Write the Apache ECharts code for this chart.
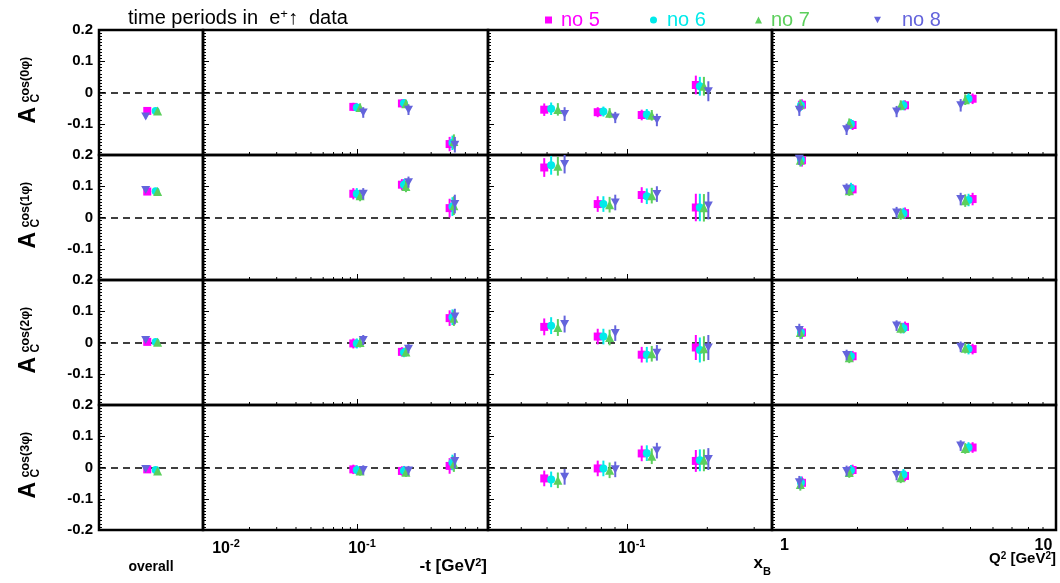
<!DOCTYPE html>
<html><head><meta charset="utf-8">
<script src="https://cdn.jsdelivr.net/npm/echarts@6/dist/echarts.min.js"></script>
<style>html,body{margin:0;padding:0;background:#fff}#c{width:1060px;height:583px}</style>
</head><body><div id="c"></div>
<script>
const FONT = '"Liberation Sans", Arial, Helvetica, sans-serif';

// ---- series ----
const seriesNames = ['no 5', 'no 6', 'no 7', 'no 8'];
const seriesColors = ['#ff00ff', '#00eaea', '#5ccf5c', '#6464dc'];
const harmonics = ['0', '1', '2', '3'];           // A_C^{cos(n phi)}
// which panel column each of the 12 points belongs to: overall, -t (3 bins), xB (4 bins), Q2 (4 bins)
const pointColumn = [0, 1, 1, 1, 2, 2, 2, 2, 3, 3, 3, 3];

// x positions (overall slot, -t [GeV^2], x_B, Q^2 [GeV^2]) per series
const X_no5 = [0.464, 0.094, 0.194, 0.395, 0.0488, 0.0775, 0.1134, 0.1811, 1.275, 1.922, 2.940, 5.086];
const X_no6 = [0.545, 0.099, 0.200, 0.412, 0.0518, 0.0814, 0.1185, 0.1875, 1.265, 1.897, 2.903, 4.920];
const X_no7 = [0.564, 0.104, 0.206, 0.421, 0.0549, 0.0859, 0.1237, 0.1942, 1.258, 1.871, 2.840, 4.790];
const X_no8 = [0.449, 0.109, 0.214, 0.427, 0.0582, 0.0902, 0.1293, 0.2018, 1.248, 1.831, 2.746, 4.617];

// asymmetry values: row cos(0phi)
const A0_no5 = [-0.059, -0.046, -0.035, -0.165, -0.055, -0.063, -0.072, 0.024, -0.039, -0.104, -0.041, -0.020];
const A0_no6 = [-0.059, -0.048, -0.034, -0.161, -0.052, -0.061, -0.070, 0.020, -0.041, -0.101, -0.041, -0.020];
const A0_no7 = [-0.059, -0.048, -0.036, -0.157, -0.054, -0.066, -0.073, 0.020, -0.039, -0.099, -0.041, -0.023];
const A0_no8 = [-0.077, -0.064, -0.055, -0.167, -0.069, -0.080, -0.088, 0.004, -0.055, -0.118, -0.061, -0.041];
// row cos(1phi)
const A1_no5 = [0.083, 0.076, 0.105, 0.030, 0.160, 0.043, 0.072, 0.032, 0.183, 0.090, 0.014, 0.059];
const A1_no6 = [0.084, 0.076, 0.105, 0.035, 0.167, 0.043, 0.068, 0.032, 0.185, 0.094, 0.013, 0.056];
const A1_no7 = [0.083, 0.070, 0.099, 0.038, 0.164, 0.041, 0.070, 0.031, 0.183, 0.086, 0.011, 0.054];
const A1_no8 = [0.088, 0.076, 0.113, 0.043, 0.171, 0.048, 0.075, 0.038, 0.188, 0.092, 0.016, 0.059];
// row cos(2phi)
const A2_no5 = [0.002, -0.003, -0.030, 0.078, 0.050, 0.019, -0.039, -0.016, 0.032, -0.044, 0.050, -0.021];
const A2_no6 = [0.002, -0.003, -0.032, 0.081, 0.054, 0.019, -0.039, -0.024, 0.032, -0.044, 0.046, -0.021];
const A2_no7 = [0.001, 0.000, -0.030, 0.078, 0.048, 0.016, -0.036, -0.020, 0.032, -0.049, 0.046, -0.018];
const A2_no8 = [0.008, 0.008, -0.020, 0.083, 0.059, 0.030, -0.033, -0.016, 0.040, -0.040, 0.054, -0.014];
// row cos(3phi)
const A3_no5 = [-0.006, -0.006, -0.011, 0.005, -0.035, -0.003, 0.045, 0.021, -0.049, -0.008, -0.027, 0.064];
const A3_no6 = [-0.008, -0.008, -0.010, 0.016, -0.038, -0.003, 0.046, 0.023, -0.049, -0.009, -0.022, 0.064];
const A3_no7 = [-0.011, -0.011, -0.015, 0.011, -0.041, -0.009, 0.036, 0.023, -0.054, -0.016, -0.033, 0.061];
const A3_no8 = [-0.005, -0.008, -0.010, 0.021, -0.030, -0.006, 0.054, 0.027, -0.047, -0.011, -0.024, 0.070];

// statistical uncertainties per row
const E0 = [0.006, 0.013, 0.013, 0.023, 0.020, 0.016, 0.017, 0.030, 0.017, 0.016, 0.016, 0.017];
const E0_no8 = [0.006, 0.017, 0.017, 0.025, 0.022, 0.018, 0.020, 0.032, 0.020, 0.018, 0.018, 0.020];
const E1 = [0.005, 0.018, 0.018, 0.030, 0.030, 0.025, 0.025, 0.044, 0.020, 0.017, 0.018, 0.020];
const E2 = [0.005, 0.016, 0.015, 0.025, 0.027, 0.025, 0.025, 0.040, 0.020, 0.017, 0.017, 0.017];
const E3 = [0.006, 0.015, 0.015, 0.025, 0.025, 0.025, 0.025, 0.035, 0.020, 0.017, 0.017, 0.017];

// axis tick positions for the log axes (minor ticks)
const minorT = [0.02, 0.03, 0.04, 0.05, 0.06, 0.07, 0.08, 0.09, 0.2, 0.3, 0.4, 0.5, 0.6];
const minorXB = [0.04, 0.05, 0.06, 0.07, 0.08, 0.09, 0.2, 0.3];
const minorQ2 = [2, 3, 4, 5, 6, 7, 8, 9];

const XS = [X_no5, X_no6, X_no7, X_no8];
const AS = [[A0_no5, A0_no6, A0_no7, A0_no8], [A1_no5, A1_no6, A1_no7, A1_no8],
            [A2_no5, A2_no6, A2_no7, A2_no8], [A3_no5, A3_no6, A3_no7, A3_no8]];
const ES = [[E0, E0, E0, E0_no8], [E1, E1, E1, E1], [E2, E2, E2, E2], [E3, E3, E3, E3]];
const minors = [[], minorT, minorXB, minorQ2];

// ---- layout ----
const colEdges = [99, 203, 488, 772, 1056];
const rowTops = [30, 155, 280, 405];
const rowH = 125;
const xRanges = [[0, 1], [0.01, 0.7], [0.03, 0.35], [1, 10]];
const symbols = ['rect', 'circle', 'triangle', 'path://M0,0L10,0L5,9Z'];
const symSizes = [8, 8, 9, 9];

const grids = [], xAxes = [], yAxes = [], series = [];

function logLabel(c) {
  return function (v) {
    const l = Math.log10(v), e = Math.round(l);
    if (Math.abs(l - e) > 1e-6) return '';
    if (c === 3) return e === 0 ? '{q0|1}' : '{q1|10}';
    if (c === 1 && e === -2) return '{bm|10}{s|' + e + '}';
    return '{b|10}{s|' + e + '}';
  };
}
const labelRich = {
  b: {fontSize: 16, fontWeight: 'bold', fontFamily: FONT, color: '#000', padding: [0, 0, 0, 9], verticalAlign: 'bottom'},
  bm: {fontSize: 16, fontWeight: 'bold', fontFamily: FONT, color: '#000', padding: [0, 0, 0, 46], verticalAlign: 'bottom'},
  s: {fontSize: 11, fontWeight: 'bold', fontFamily: FONT, color: '#000', verticalAlign: 'top', padding: [0, 0, 8, 0]},
  q0: {fontSize: 16, fontWeight: 'bold', fontFamily: FONT, color: '#000', padding: [0, 0, 0, 25]},
  q1: {fontSize: 16, fontWeight: 'bold', fontFamily: FONT, color: '#000', padding: [0, 25, 0, 0]}
};

for (let r = 0; r < 4; r++) {
  for (let c = 0; c < 4; c++) {
    const g = r * 4 + c;
    grids.push({
      left: colEdges[c], top: rowTops[r], width: colEdges[c + 1] - colEdges[c], height: rowH,
      show: true, borderColor: '#000', borderWidth: 2.5, backgroundColor: 'transparent',
      containLabel: false, outerBoundsMode: 'none'
    });
    if (c === 0) {
      xAxes.push({gridIndex: g, type: 'value', min: 0, max: 1, position: 'bottom',
        axisLine: {show: false, onZero: false},
        axisTick: {show: false}, axisLabel: {show: false}, splitLine: {show: false}});
    } else {
      xAxes.push({gridIndex: g, type: 'log', logBase: 10, min: xRanges[c][0], max: xRanges[c][1], position: 'bottom',
        axisLine: {show: false, onZero: false},
        axisTick: {show: true, inside: true, length: 6, lineStyle: {color: '#000', width: 1}},
        minorTick: {show: false},
        axisLabel: {show: r === 3, margin: 8, formatter: logLabel(c), rich: labelRich, showMinLabel: true, showMaxLabel: true},
        splitLine: {show: false}});
    }
    yAxes.push({gridIndex: g, type: 'value', min: -0.2, max: 0.2, interval: 0.1, position: 'left',
      axisLine: {show: false, onZero: false},
      axisTick: {show: true, inside: true, length: 6, lineStyle: {color: '#000', width: 1}},
      minorTick: {show: true, splitNumber: 10, length: 3, lineStyle: {color: '#000', width: 1}},
      axisLabel: {show: c === 0, margin: 6, fontSize: 15, fontWeight: 'bold', fontFamily: FONT, color: '#000',
        formatter: (function (row) { return function (v) {
          const q = Math.round(v * 10) / 10;
          if (q === -0.2 && row < 3) return '';
          return q === 0 ? '0' : q.toFixed(1);
        }; })(r)},
      splitLine: {show: false}});

    // minor ticks of log axes
    if (c > 0) {
      series.push({type: 'custom', xAxisIndex: g, yAxisIndex: g, silent: true, z: 1,
        data: minors[c].map(v => [v, -0.2]),
        renderItem: function (params, api) {
          const p = api.coord([api.value(0), -0.2]);
          return {type: 'line', shape: {x1: p[0], y1: p[1], x2: p[0], y2: p[1] - 3},
            style: {stroke: '#000', lineWidth: 1}};
        }});
    }

    for (let s = 0; s < 4; s++) {
      const pts = [], bars = [];
      for (let i = 0; i < 12; i++) {
        if (pointColumn[i] !== c) continue;
        const x = XS[s][i], y = AS[r][s][i], e = ES[r][s][i];
        pts.push([x, y]);
        bars.push([x, y - e, y + e]);
      }
      const col = seriesColors[s];
      series.push({type: 'custom', name: seriesNames[s] + ' err', xAxisIndex: g, yAxisIndex: g, silent: true,
        z: 2 + s, clip: true, data: bars, encode: {x: 0, y: [1, 2]},
        renderItem: (function (color) { return function (params, api) {
          const x = api.value(0);
          const a = api.coord([x, api.value(1)]);
          const b = api.coord([x, api.value(2)]);
          return {type: 'line', shape: {x1: a[0], y1: a[1], x2: b[0], y2: b[1]},
            style: {stroke: color, lineWidth: 2}};
        }; })(col)});
      const sc = {type: 'scatter', name: seriesNames[s], xAxisIndex: g, yAxisIndex: g,
        symbol: symbols[s], symbolSize: symSizes[s], symbolKeepAspect: true,
        itemStyle: {color: col, opacity: 1}, z: 2 + s, data: pts, silent: true};
      if (s === 0) {
        sc.markLine = {silent: true, symbol: ['none', 'none'], label: {show: false}, z: 1,
          lineStyle: {color: '#000', type: [7, 5], width: 1.5}, data: [{yAxis: 0}], animation: false};
      }
      series.push(sc);
    }
  }
}

// ---- texts ----
const graphic = [];
graphic.push({type: 'text', x: 128, y: 18, style: {
  text: 'time periods in  e{s|+}↑  data', fontSize: 20, fontFamily: FONT, fill: '#000',
  verticalAlign: 'middle', align: 'left',
  rich: {s: {fontSize: 13, fontFamily: FONT, verticalAlign: 'top', padding: [0, 0, 6, 0]}}}});
harmonics.forEach(function (n, r) {
  const cy = rowTops[r] + rowH / 2;
  graphic.push({type: 'group', x: 28.5, y: cy, rotation: Math.PI / 2, children: [
    {type: 'text', x: -31, y: 0, style: {text: 'A', fontSize: 23, fontWeight: 'bold', fontFamily: FONT, fill: '#000', align: 'left', verticalAlign: 'middle'}},
    {type: 'text', x: -10, y: 7.5, style: {text: 'C', fontSize: 12, fontWeight: 'bold', fontFamily: FONT, fill: '#000', align: 'left', verticalAlign: 'middle'}},
    {type: 'text', x: -10, y: -3, style: {text: 'cos(' + n + 'φ)', fontSize: 12.5, fontWeight: 'bold', fontFamily: FONT, fill: '#000', align: 'left', verticalAlign: 'middle'}}
  ]});
});
graphic.push({type: 'text', x: 151, y: 567, style: {text: 'overall', fontSize: 14, fontWeight: 'bold', fontFamily: FONT, fill: '#000', align: 'center', verticalAlign: 'middle'}});
const subRich = {
  a: {fontSize: 17, fontWeight: 'bold', fontFamily: FONT, verticalAlign: 'bottom'},
  q: {fontSize: 15, fontWeight: 'bold', fontFamily: FONT, verticalAlign: 'bottom'},
  ab: {fontSize: 17, fontWeight: 'bold', fontFamily: FONT, verticalAlign: 'bottom', padding: [0, 0, 5, 0]},
  s: {fontSize: 11, fontWeight: 'bold', fontFamily: FONT, verticalAlign: 'top', padding: [0, 0, 5, 0]},
  sq: {fontSize: 10, fontWeight: 'bold', fontFamily: FONT, verticalAlign: 'top', padding: [0, 0, 4, 0]},
  d: {fontSize: 11, fontWeight: 'bold', fontFamily: FONT, verticalAlign: 'bottom'}
};
graphic.push({type: 'text', x: 487, y: 566, style: {text: '{a|-t [GeV}{s|2}{a|]}', rich: subRich, fill: '#000', align: 'right', verticalAlign: 'middle'}});
graphic.push({type: 'text', x: 771, y: 566, style: {text: '{ab|x}{d|B}', rich: subRich, fill: '#000', align: 'right', verticalAlign: 'middle'}});
graphic.push({type: 'text', x: 1056, y: 559, style: {text: '{q|Q}{sq|2}{q| [GeV}{sq|2}{q|]}', rich: subRich, fill: '#000', align: 'right', verticalAlign: 'middle'}});

// ---- legends ----
const legendLeft = [540, 645, 750, 869];
const legendPad = [4, 5, 4, 16];
const legends = seriesNames.map(function (n, s) {
  return {data: [{name: n}], left: legendLeft[s], top: 5, itemWidth: 7, itemHeight: 7, selectedMode: false,
    textStyle: {color: seriesColors[s], fontSize: 20, fontFamily: FONT, padding: [0, 0, 0, legendPad[s]]}};
});

const chart = echarts.init(document.getElementById('c'), null, {renderer: 'canvas'});
chart.setOption({
  animation: false,
  backgroundColor: '#fff',
  textStyle: {fontFamily: FONT},
  grid: grids, xAxis: xAxes, yAxis: yAxes, series: series,
  legend: legends, graphic: graphic
});
</script></body></html>
